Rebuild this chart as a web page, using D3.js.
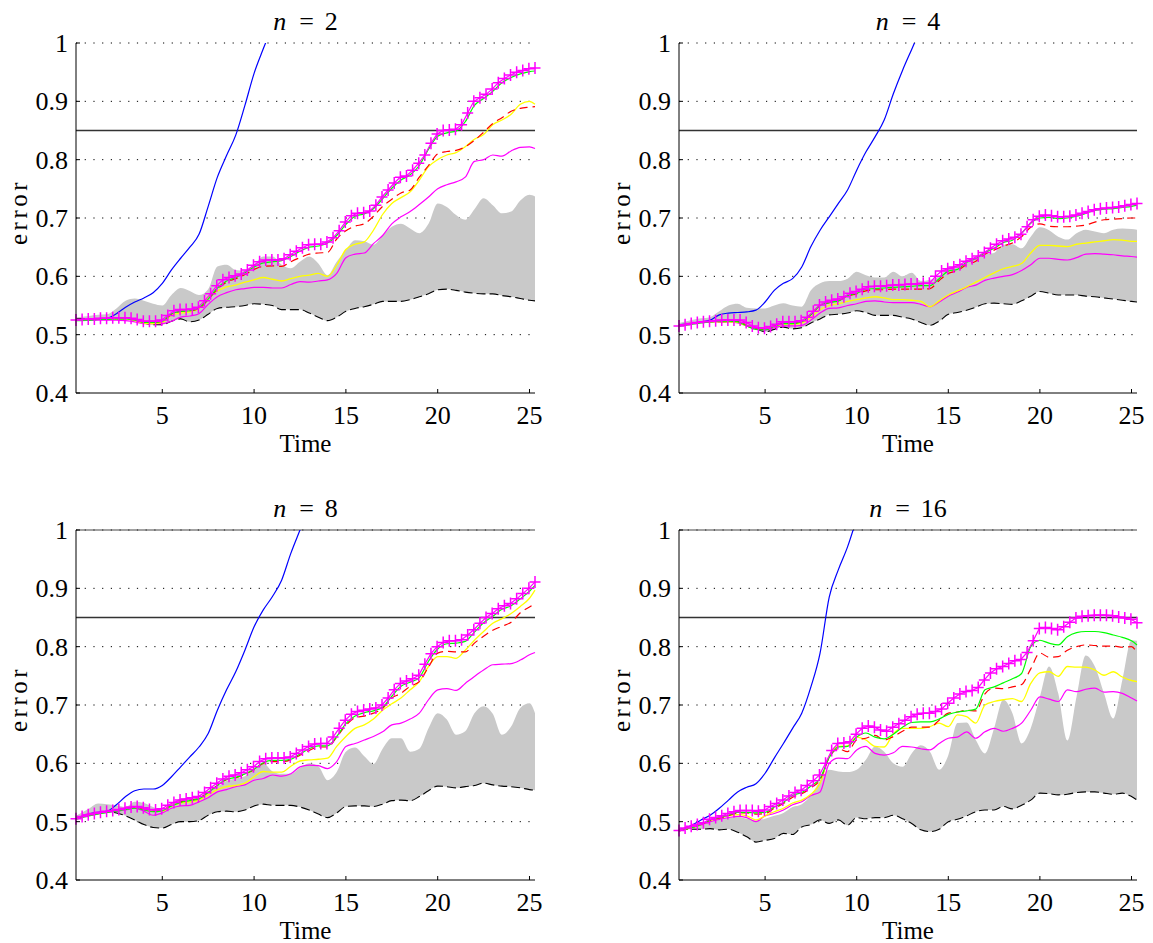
<!DOCTYPE html>
<html>
<head>
<meta charset="utf-8">
<script src="https://cdn.jsdelivr.net/npm/d3@7"></script>
<style>
  html, body { margin: 0; padding: 0; background: #fff; }
  svg { display: block; }
  text { font-family: "Liberation Serif", "DejaVu Serif", serif; fill: #000; }
</style>
</head>
<body>
<svg id="chart" width="1153" height="943"></svg>
<script>
// ---------- data ----------
const times = [0.3, 1, 1.5, 2, 2.5, 3, 3.5, 4, 4.5, 5,
  5.5, 6, 6.5, 7, 7.5, 8, 8.5, 9, 9.5, 10,
  10.5, 11, 11.5, 12, 12.5, 13, 13.5, 14, 14.5, 15,
  15.5, 16, 16.5, 17, 17.5, 18, 18.5, 19, 19.5, 20,
  20.5, 21, 21.5, 22, 22.5, 23, 23.5, 24, 24.5, 25, 25.3];

// sample times of the "+" marked series (every 1/3 time unit)
const plusTimes = [0.3, 0.633, 0.967, 1.3, 1.633, 1.967, 2.3, 2.633, 2.967, 3.3, 3.633, 3.967,
  4.3, 4.633, 4.967, 5.3, 5.633, 5.967, 6.3, 6.633, 6.967, 7.3, 7.633, 7.967,
  8.3, 8.633, 8.967, 9.3, 9.633, 9.967, 10.3, 10.633, 10.967, 11.3, 11.633, 11.967,
  12.3, 12.633, 12.967, 13.3, 13.633, 13.967, 14.3, 14.633, 14.967, 15.3, 15.633, 15.967,
  16.3, 16.633, 16.967, 17.3, 17.633, 17.967, 18.3, 18.633, 18.967, 19.3, 19.633, 19.967,
  20.3, 20.633, 20.967, 21.3, 21.633, 21.967, 22.3, 22.633, 22.967, 23.3, 23.633, 23.967,
  24.3, 24.633, 24.967, 25.3];

const yTicks = [0.4, 0.5, 0.6, 0.7, 0.8, 0.9, 1];
const xTicks = [5, 10, 15, 20, 25];
const threshold = 0.85;
const panelTitles = ["2", "4", "8", "16"];

// n = 2
const blue2 = [0.525,0.525,0.526,0.528,0.536,0.547,0.556,0.563,0.572,0.588,
  0.611,0.631,0.650,0.672,0.720,0.770,0.807,0.842,0.893,0.948,
  0.990,1.03];
const plus2 = [0.525,0.526,0.527, 0.527,0.528,0.528, 0.529,0.529,0.529, 0.528,0.526,0.523,
  0.523,0.523,0.525, 0.533,0.541,0.543, 0.543,0.544,0.547, 0.558,0.570,0.584,
  0.594,0.598,0.601, 0.604,0.611,0.619, 0.625,0.628,0.628, 0.628,0.630,0.637,
  0.643,0.649,0.654, 0.655,0.655,0.659, 0.666,0.678,0.693, 0.704,0.708,0.709,
  0.712,0.722,0.736, 0.748,0.760,0.770, 0.772,0.782,0.794, 0.808,0.828,0.844,
  0.850,0.851,0.852, 0.860,0.880,0.900, 0.906,0.912,0.921, 0.932,0.939,0.945,
  0.950,0.953,0.956, 0.957];
const green2 = [0.524,0.525,0.526,0.526,0.527,0.527,0.525,0.521,0.521,0.523,
  0.536,0.540,0.541,0.546,0.561,0.580,0.592,0.598,0.606,0.616,
  0.623,0.625,0.627,0.634,0.643,0.650,0.652,0.657,0.670,0.689,
  0.703,0.707,0.716,0.733,0.751,0.765,0.774,0.790,0.818,0.840,
  0.846,0.849,0.865,0.893,0.905,0.917,0.932,0.941,0.947,0.951,0.952];
const red2 = [0.525,0.526,0.527,0.527,0.528,0.528,0.526,0.522,0.521,0.523,
  0.535,0.540,0.541,0.545,0.560,0.578,0.590,0.596,0.603,0.612,
  0.617,0.618,0.617,0.625,0.632,0.638,0.640,0.641,0.664,0.678,
  0.686,0.690,0.703,0.720,0.732,0.743,0.748,0.770,0.790,0.810,
  0.814,0.816,0.822,0.833,0.847,0.862,0.872,0.883,0.888,0.890,0.891];
const yellow2 = [0.525,0.526,0.527,0.527,0.527,0.527,0.524,0.520,0.519,0.521,
  0.533,0.537,0.539,0.545,0.565,0.575,0.582,0.585,0.590,0.594,
  0.598,0.595,0.592,0.596,0.600,0.602,0.605,0.600,0.619,0.646,
  0.655,0.659,0.679,0.706,0.725,0.735,0.745,0.765,0.788,0.800,
  0.808,0.812,0.822,0.835,0.843,0.860,0.868,0.878,0.895,0.900,0.895];
const mag2 = [0.525,0.525,0.525,0.525,0.525,0.524,0.522,0.519,0.519,0.519,
  0.523,0.530,0.532,0.536,0.552,0.565,0.572,0.577,0.579,0.581,
  0.581,0.580,0.580,0.586,0.591,0.590,0.592,0.594,0.605,0.632,
  0.638,0.640,0.656,0.670,0.690,0.702,0.711,0.723,0.736,0.750,
  0.757,0.762,0.770,0.797,0.800,0.808,0.806,0.815,0.821,0.822,0.819];
const dash2 = [0.527,0.527,0.527,0.527,0.527,0.527,0.525,0.520,0.517,0.517,
  0.523,0.527,0.522,0.525,0.535,0.545,0.547,0.548,0.550,0.553,
  0.552,0.550,0.543,0.543,0.543,0.537,0.530,0.524,0.530,0.540,
  0.545,0.548,0.552,0.557,0.557,0.557,0.560,0.565,0.570,0.577,
  0.578,0.576,0.573,0.571,0.570,0.570,0.567,0.565,0.562,0.559,0.558];
const band2 = [0.530,0.532,0.534,0.535,0.545,0.558,0.562,0.558,0.553,0.550,
  0.568,0.580,0.575,0.568,0.578,0.617,0.620,0.611,0.610,0.620,
  0.634,0.634,0.620,0.614,0.625,0.634,0.622,0.602,0.625,0.645,
  0.662,0.660,0.654,0.670,0.685,0.690,0.682,0.674,0.690,0.725,
  0.719,0.705,0.697,0.715,0.734,0.722,0.708,0.711,0.730,0.740,0.737];

// n = 4
const blue4 = [0.517,0.520,0.522,0.525,0.534,0.537,0.538,0.539,0.542,0.556,
  0.576,0.588,0.596,0.616,0.651,0.679,0.702,0.725,0.748,0.782,
  0.813,0.839,0.868,0.913,0.953,0.989,1.025];
const plus4 = [0.515,0.517,0.519, 0.521,0.522,0.523, 0.524,0.525,0.525, 0.525,0.525,0.521,
  0.515,0.512,0.511, 0.514,0.518,0.522, 0.522,0.522,0.524, 0.530,0.540,0.551,
  0.556,0.559,0.561, 0.565,0.571,0.574, 0.578,0.582,0.583, 0.583,0.584,0.585,
  0.585,0.586,0.587, 0.587,0.588,0.588, 0.600,0.609,0.613, 0.616,0.620,0.626,
  0.630,0.635,0.641, 0.648,0.655,0.661, 0.664,0.667,0.672, 0.685,0.697,0.703,
  0.705,0.704,0.702, 0.702,0.703,0.705, 0.708,0.711,0.714, 0.716,0.717,0.718,
  0.719,0.721,0.723, 0.725];
const green4 = [0.514,0.518,0.520,0.522,0.523,0.523,0.522,0.515,0.509,0.508,
  0.514,0.519,0.519,0.522,0.534,0.550,0.555,0.558,0.567,0.571,
  0.578,0.579,0.580,0.581,0.582,0.583,0.584,0.584,0.596,0.609,
  0.612,0.624,0.630,0.641,0.648,0.658,0.662,0.674,0.691,0.700,
  0.701,0.699,0.700,0.703,0.708,0.713,0.715,0.716,0.718,0.720,0.722];
const red4 = [0.515,0.519,0.521,0.523,0.524,0.524,0.523,0.516,0.510,0.509,
  0.515,0.520,0.520,0.523,0.535,0.550,0.555,0.558,0.566,0.570,
  0.575,0.577,0.577,0.578,0.578,0.578,0.578,0.579,0.593,0.605,
  0.610,0.620,0.626,0.638,0.645,0.652,0.657,0.668,0.684,0.690,
  0.686,0.685,0.685,0.686,0.688,0.693,0.697,0.698,0.699,0.700,0.700];
const yellow4 = [0.515,0.520,0.521,0.522,0.522,0.522,0.521,0.515,0.512,0.512,
  0.514,0.518,0.518,0.520,0.530,0.543,0.550,0.553,0.557,0.560,
  0.563,0.565,0.563,0.560,0.560,0.559,0.557,0.548,0.558,0.568,
  0.575,0.582,0.590,0.598,0.606,0.613,0.617,0.622,0.640,0.653,
  0.653,0.652,0.651,0.655,0.657,0.659,0.661,0.663,0.662,0.660,0.660];
const mag4 = [0.515,0.519,0.521,0.522,0.522,0.522,0.520,0.515,0.510,0.508,
  0.512,0.515,0.515,0.516,0.525,0.537,0.545,0.546,0.550,0.553,
  0.557,0.558,0.556,0.555,0.555,0.555,0.552,0.548,0.556,0.566,
  0.573,0.581,0.585,0.593,0.597,0.600,0.603,0.610,0.620,0.631,
  0.631,0.629,0.628,0.632,0.638,0.639,0.638,0.637,0.635,0.634,0.633];
const dash4 = [0.515,0.520,0.521,0.522,0.522,0.522,0.522,0.515,0.510,0.505,
  0.509,0.513,0.510,0.512,0.520,0.527,0.534,0.535,0.537,0.541,
  0.538,0.533,0.533,0.533,0.530,0.527,0.521,0.516,0.523,0.535,
  0.538,0.542,0.547,0.553,0.554,0.553,0.552,0.558,0.566,0.574,
  0.571,0.568,0.568,0.568,0.566,0.565,0.563,0.561,0.559,0.557,0.556];
const band4 = [0.520,0.525,0.528,0.530,0.540,0.550,0.553,0.546,0.545,0.545,
  0.550,0.554,0.550,0.548,0.576,0.588,0.592,0.592,0.596,0.608,
  0.602,0.598,0.598,0.608,0.600,0.606,0.592,0.594,0.600,0.616,
  0.617,0.625,0.634,0.638,0.640,0.654,0.655,0.648,0.668,0.684,
  0.679,0.668,0.663,0.674,0.680,0.677,0.674,0.680,0.682,0.681,0.680];

// n = 8
const blue8 = [0.505,0.513,0.516,0.518,0.529,0.543,0.553,0.556,0.556,0.562,
  0.577,0.594,0.611,0.628,0.651,0.691,0.726,0.757,0.794,0.834,
  0.863,0.886,0.914,0.960,1.000,1.04];
const plus8 = [0.505,0.509,0.512, 0.514,0.516,0.518, 0.519,0.521,0.523, 0.525,0.526,0.524,
  0.521,0.520,0.522, 0.528,0.533,0.537, 0.539,0.541,0.543, 0.550,0.558,0.566,
  0.573,0.578,0.580, 0.584,0.589,0.594, 0.603,0.608,0.609, 0.609,0.609,0.611,
  0.617,0.623,0.629, 0.633,0.634,0.634, 0.645,0.660,0.674, 0.684,0.689,0.691,
  0.693,0.695,0.700, 0.712,0.726,0.737, 0.741,0.745,0.751, 0.770,0.788,0.800,
  0.807,0.810,0.810, 0.812,0.820,0.829, 0.840,0.850,0.857, 0.865,0.870,0.874,
  0.882,0.891,0.900, 0.911];
const green8 = [0.504,0.510,0.513,0.516,0.518,0.521,0.523,0.520,0.517,0.519,
  0.527,0.533,0.536,0.539,0.550,0.562,0.573,0.576,0.582,0.590,
  0.601,0.605,0.605,0.607,0.616,0.625,0.630,0.630,0.646,0.668,
  0.681,0.687,0.690,0.696,0.715,0.732,0.739,0.747,0.775,0.796,
  0.805,0.806,0.809,0.825,0.841,0.852,0.864,0.870,0.882,0.895,0.905];
const red8 = [0.505,0.511,0.514,0.517,0.519,0.522,0.524,0.521,0.518,0.520,
  0.528,0.534,0.537,0.540,0.551,0.562,0.572,0.575,0.581,0.589,
  0.600,0.603,0.603,0.606,0.614,0.622,0.628,0.628,0.645,0.665,
  0.678,0.681,0.686,0.694,0.712,0.720,0.732,0.740,0.765,0.789,
  0.792,0.791,0.791,0.806,0.818,0.828,0.835,0.842,0.858,0.868,0.874];
const yellow8 = [0.505,0.511,0.514,0.517,0.519,0.522,0.525,0.522,0.518,0.518,
  0.527,0.532,0.534,0.537,0.546,0.555,0.560,0.562,0.566,0.577,
  0.586,0.585,0.585,0.595,0.604,0.606,0.607,0.609,0.629,0.646,
  0.660,0.666,0.676,0.691,0.702,0.712,0.726,0.740,0.766,0.783,
  0.783,0.780,0.794,0.811,0.826,0.840,0.848,0.857,0.869,0.883,0.897];
const mag8 = [0.505,0.514,0.515,0.516,0.518,0.520,0.523,0.518,0.511,0.515,
  0.523,0.527,0.528,0.534,0.541,0.551,0.555,0.560,0.563,0.571,
  0.574,0.580,0.578,0.582,0.594,0.597,0.596,0.591,0.603,0.629,
  0.634,0.640,0.646,0.654,0.666,0.669,0.676,0.686,0.709,0.726,
  0.728,0.725,0.737,0.749,0.760,0.769,0.770,0.771,0.777,0.786,0.790];
const dash8 = [0.505,0.512,0.515,0.517,0.515,0.510,0.503,0.495,0.490,0.489,
  0.495,0.500,0.500,0.502,0.511,0.517,0.518,0.517,0.520,0.527,
  0.530,0.528,0.528,0.528,0.525,0.520,0.513,0.507,0.515,0.526,
  0.527,0.527,0.526,0.530,0.536,0.537,0.536,0.543,0.553,0.561,
  0.560,0.558,0.560,0.562,0.566,0.563,0.561,0.560,0.558,0.555,0.554];
const band8 = [0.510,0.522,0.531,0.530,0.528,0.525,0.534,0.532,0.525,0.520,
  0.527,0.540,0.540,0.542,0.552,0.560,0.570,0.574,0.578,0.589,
  0.600,0.586,0.582,0.582,0.592,0.600,0.595,0.571,0.585,0.620,
  0.627,0.612,0.599,0.625,0.643,0.643,0.620,0.625,0.660,0.686,
  0.675,0.649,0.655,0.686,0.698,0.685,0.649,0.663,0.695,0.703,0.686];

// n = 16
const blue16 = [0.486,0.494,0.503,0.511,0.523,0.537,0.551,0.559,0.565,0.583,
  0.609,0.634,0.660,0.686,0.731,0.789,0.885,0.932,0.971,1.02];
const plus16 = [0.485,0.489,0.492, 0.495,0.498,0.504, 0.507,0.510,0.514, 0.517,0.519,0.519,
  0.519,0.518,0.520, 0.526,0.531,0.537, 0.544,0.550,0.554, 0.562,0.570,0.580,
  0.600,0.622,0.634, 0.635,0.637,0.650, 0.660,0.664,0.662, 0.657,0.655,0.662,
  0.668,0.674,0.680, 0.684,0.686,0.686, 0.689,0.693,0.703, 0.712,0.719,0.723,
  0.725,0.730,0.743, 0.755,0.762,0.766, 0.771,0.776,0.778, 0.790,0.810,0.831,
  0.833,0.831,0.829, 0.834,0.842,0.849, 0.852,0.853,0.854, 0.854,0.854,0.853,
  0.851,0.849,0.847, 0.841];
const green16 = [0.484,0.490,0.495,0.503,0.507,0.511,0.516,0.516,0.515,0.516,
  0.525,0.533,0.545,0.550,0.561,0.574,0.610,0.628,0.629,0.645,
  0.652,0.645,0.642,0.650,0.662,0.670,0.671,0.671,0.676,0.684,
  0.688,0.690,0.693,0.726,0.731,0.738,0.745,0.754,0.800,0.811,
  0.806,0.803,0.817,0.824,0.826,0.826,0.824,0.820,0.816,0.810,0.803];
const red16 = [0.484,0.490,0.495,0.502,0.506,0.510,0.515,0.515,0.513,0.514,
  0.523,0.531,0.542,0.548,0.558,0.572,0.610,0.625,0.620,0.640,
  0.643,0.648,0.640,0.646,0.655,0.662,0.662,0.662,0.674,0.686,
  0.688,0.691,0.690,0.719,0.729,0.728,0.731,0.735,0.762,0.789,
  0.782,0.783,0.794,0.800,0.803,0.802,0.801,0.801,0.799,0.800,0.789];
const yellow16 = [0.485,0.490,0.495,0.502,0.506,0.510,0.512,0.510,0.503,0.510,
  0.517,0.523,0.532,0.537,0.547,0.566,0.612,0.629,0.630,0.645,
  0.640,0.629,0.628,0.651,0.660,0.660,0.660,0.663,0.669,0.663,
  0.683,0.680,0.669,0.700,0.706,0.709,0.711,0.706,0.737,0.755,
  0.757,0.749,0.766,0.765,0.765,0.760,0.751,0.757,0.748,0.742,0.740];
const mag16 = [0.485,0.490,0.495,0.500,0.504,0.507,0.509,0.507,0.500,0.510,
  0.514,0.520,0.529,0.534,0.545,0.551,0.600,0.609,0.608,0.623,
  0.629,0.617,0.614,0.618,0.629,0.628,0.625,0.623,0.634,0.643,
  0.645,0.654,0.643,0.654,0.660,0.655,0.660,0.669,0.691,0.714,
  0.710,0.706,0.726,0.723,0.727,0.729,0.722,0.723,0.720,0.712,0.707];
const dash16 = [0.487,0.487,0.487,0.488,0.486,0.487,0.482,0.474,0.465,0.468,
  0.471,0.480,0.478,0.491,0.495,0.503,0.497,0.503,0.494,0.507,
  0.505,0.507,0.507,0.511,0.505,0.497,0.486,0.483,0.487,0.500,
  0.504,0.510,0.517,0.520,0.520,0.526,0.522,0.528,0.537,0.549,
  0.548,0.546,0.547,0.550,0.551,0.551,0.549,0.547,0.549,0.543,0.537];
const band16 = [0.488,0.493,0.498,0.500,0.503,0.506,0.508,0.505,0.502,0.505,
  0.510,0.515,0.525,0.530,0.545,0.570,0.589,0.586,0.585,0.589,
  0.606,0.629,0.620,0.600,0.594,0.617,0.631,0.620,0.589,0.614,
  0.669,0.670,0.640,0.617,0.660,0.709,0.686,0.634,0.660,0.714,
  0.766,0.720,0.639,0.714,0.785,0.766,0.720,0.677,0.743,0.811,0.810];

// ---------- layout ----------
const panels = [
  { title: panelTitles[0], left: 76,  right: 535,  top: 43,  bottom: 393, topLine: false,
    blue: blue2, plus: plus2, green: green2, red: red2, yellow: yellow2, mag: mag2, dash: dash2, band: band2 },
  { title: panelTitles[1], left: 679, right: 1137, top: 43,  bottom: 393, topLine: false,
    blue: blue4, plus: plus4, green: green4, red: red4, yellow: yellow4, mag: mag4, dash: dash4, band: band4 },
  { title: panelTitles[2], left: 76,  right: 535,  top: 530, bottom: 880, topLine: true,
    blue: blue8, plus: plus8, green: green8, red: red8, yellow: yellow8, mag: mag8, dash: dash8, band: band8 },
  { title: panelTitles[3], left: 679, right: 1137, top: 530, bottom: 880, topLine: true,
    blue: blue16, plus: plus16, green: green16, red: red16, yellow: yellow16, mag: mag16, dash: dash16, band: band16 }
];

const svg = d3.select("#chart");
const defs = svg.append("defs");

panels.forEach((p, pi) => {
  const x = d3.scaleLinear().domain([0.3, 25.3]).range([p.left, p.right]);
  const y = d3.scaleLinear().domain([0.4, 1]).range([p.bottom, p.top]);
  const g = svg.append("g");

  const clipId = "clip" + pi;
  defs.append("clipPath").attr("id", clipId).append("rect")
    .attr("x", p.left - 20).attr("y", p.top)
    .attr("width", p.right - p.left + 40).attr("height", p.bottom - p.top);

  const pts = arr => arr.map((v, i) => [times[i], v]);
  const plusPts = p.plus.map((v, i) => [plusTimes[i], v]);

  // grid (dotted)
  g.append("g").selectAll("line").data(yTicks.filter(t => t > 0.4)).join("line")
    .attr("x1", p.left).attr("x2", p.right)
    .attr("y1", d => y(d)).attr("y2", d => y(d))
    .attr("stroke", "#000").attr("stroke-width", 1)
    .attr("stroke-dasharray", "1.2,7.5");

  if (p.topLine) {
    g.append("line").attr("x1", p.left).attr("x2", p.right)
      .attr("y1", y(1)).attr("y2", y(1))
      .attr("stroke", "#444").attr("stroke-width", 1);
  }

  const data = g.append("g").attr("clip-path", `url(#${clipId})`);

  // band
  const area = d3.area()
    .x((d, i) => x(times[i]))
    .y0((d, i) => y(p.dash[i]))
    .y1(d => y(d))
    .curve(d3.curveMonotoneX);
  data.append("path").datum(p.band).attr("d", area)
    .attr("fill", "#c9c9c9").attr("stroke", "none");

  const line = d3.line().x(d => x(d[0])).y(d => y(d[1])).curve(d3.curveMonotoneX);
  const lineLin = d3.line().x(d => x(d[0])).y(d => y(d[1]));

  // threshold line
  data.append("line").attr("x1", p.left).attr("x2", p.right)
    .attr("y1", y(threshold)).attr("y2", y(threshold))
    .attr("stroke", "#333").attr("stroke-width", 1.3);

  data.append("path").datum(pts(p.dash)).attr("d", line)
    .attr("fill", "none").attr("stroke", "#000").attr("stroke-width", 1.1)
    .attr("stroke-dasharray", "9,4");
  data.append("path").datum(pts(p.blue)).attr("d", line)
    .attr("fill", "none").attr("stroke", "#0000ff").attr("stroke-width", 1.2);
  data.append("path").datum(pts(p.mag)).attr("d", line)
    .attr("fill", "none").attr("stroke", "#ff00ff").attr("stroke-width", 1.2);
  data.append("path").datum(pts(p.yellow)).attr("d", line)
    .attr("fill", "none").attr("stroke", "#ffff00").attr("stroke-width", 1.3);
  data.append("path").datum(pts(p.red)).attr("d", line)
    .attr("fill", "none").attr("stroke", "#ff0000").attr("stroke-width", 1.2)
    .attr("stroke-dasharray", "8,5");
  data.append("path").datum(pts(p.green)).attr("d", line)
    .attr("fill", "none").attr("stroke", "#00ff00").attr("stroke-width", 1.2);
  data.append("path").datum(plusPts).attr("d", lineLin)
    .attr("fill", "none").attr("stroke", "#ff00ff").attr("stroke-width", 1.2);

  // + markers
  g.append("g").selectAll("path.mk").data(plusPts).join("path")
    .attr("class", "mk")
    .attr("d", d => {
      const cx = x(d[0]), cy = y(d[1]);
      return `M${cx - 5.5},${cy}H${cx + 5.5}M${cx},${cy - 6}V${cy + 6}`;
    })
    .attr("fill", "none").attr("stroke", "#ff00ff").attr("stroke-width", 1.5);

  // axes
  g.append("line").attr("x1", p.left).attr("x2", p.left)
    .attr("y1", p.bottom).attr("y2", p.top)
    .attr("stroke", "#000").attr("stroke-width", 1);
  g.append("line").attr("x1", p.left).attr("x2", p.right)
    .attr("y1", p.bottom).attr("y2", p.bottom)
    .attr("stroke", "#000").attr("stroke-width", 1);

  // y ticks
  g.append("g").selectAll("line").data(yTicks).join("line")
    .attr("x1", p.left).attr("x2", p.left + 4)
    .attr("y1", d => y(d)).attr("y2", d => y(d))
    .attr("stroke", "#000");
  g.append("g").selectAll("text").data(yTicks).join("text")
    .attr("x", p.left - 8).attr("y", d => y(d))
    .attr("dy", "0.34em")
    .attr("text-anchor", "end").attr("font-size", 26)
    .text(d => d === 1 ? "1" : d.toFixed(1));

  // x ticks
  g.append("g").selectAll("line").data(xTicks).join("line")
    .attr("x1", d => x(d)).attr("x2", d => x(d))
    .attr("y1", p.bottom).attr("y2", p.bottom - 4)
    .attr("stroke", "#000");
  g.append("g").selectAll("text").data(xTicks).join("text")
    .attr("x", d => x(d)).attr("y", p.bottom + 31)
    .attr("text-anchor", "middle").attr("font-size", 26)
    .text(d => d);

  const cx = (p.left + p.right) / 2;
  g.append("text").attr("x", cx).attr("y", p.bottom + 59)
    .attr("text-anchor", "middle").attr("font-size", 25).text("Time");

  g.append("text")
    .attr("transform", `translate(${p.left - 49},${(p.top + p.bottom) / 2 - 6}) rotate(-90)`)
    .attr("text-anchor", "middle").attr("font-size", 25)
    .attr("letter-spacing", "3.5px").text("error");

  const t = g.append("text").attr("x", cx).attr("y", p.top - 13)
    .attr("text-anchor", "middle").attr("font-size", 26);
  t.append("tspan").attr("font-style", "italic").text("n");
  t.append("tspan").attr("dx", 13).text("=");
  t.append("tspan").attr("dx", 11).text(p.title);
});
</script>
</body>
</html>
